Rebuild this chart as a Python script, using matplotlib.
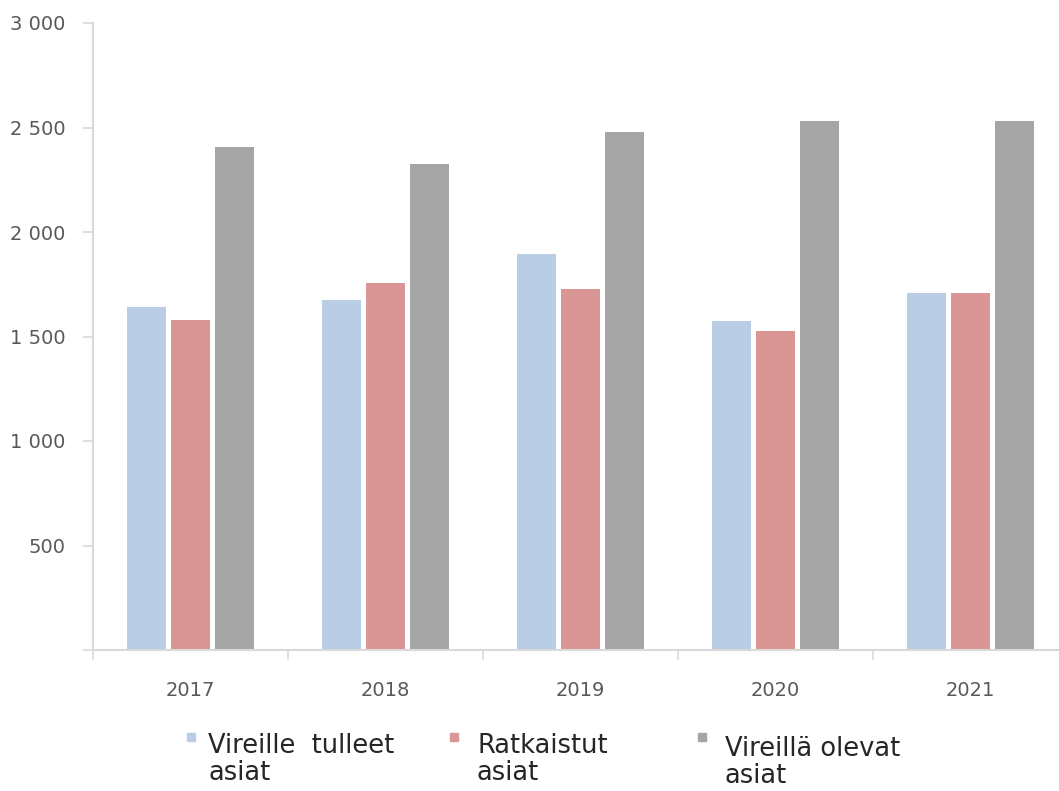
"""Vireille tulleet, ratkaistut ja vireillä olevat asiat 2017-2021."""

import matplotlib
matplotlib.use("Agg")
import matplotlib.pyplot as plt
import numpy as np
from matplotlib.patches import Rectangle
from matplotlib.ticker import FuncFormatter

years = ["2017", "2018", "2019", "2020", "2021"]
vireille_tulleet = [1640, 1675, 1895, 1575, 1710]
ratkaistut = [1580, 1755, 1725, 1525, 1710]
vireilla_olevat = [2405, 2325, 2480, 2530, 2530]

series_labels = ["Vireille  tulleet\nasiat", "Ratkaistut\nasiat", "Vireillä olevat\nasiat"]
series_colors = ["#b9cde5", "#d99694", "#a5a5a5"]
y_ticks = [0, 500, 1000, 1500, 2000, 2500, 3000]

W, H = 1059, 791
AXIS_GRAY = "#d9d9d9"
TEXT_GRAY = "#595959"


def fx(px):
    return px / W


def fy(py):
    return 1 - py / H


def thousands(v, _pos):
    if v == 0:
        return ""
    return f"{int(v):,}".replace(",", " ")


fig = plt.figure(figsize=(W / 100, H / 100), dpi=100)
ax = fig.add_axes([fx(93), fy(650), 975 / W, (650 - 23) / H])

x = np.arange(len(years))
offset = 0.225
width = 0.2
all_series = [vireille_tulleet, ratkaistut, vireilla_olevat]
for i, (vals, color) in enumerate(zip(all_series, series_colors)):
    ax.bar(x + (i - 1) * offset, vals, width=width, color=color, zorder=2)

ax.set_xlim(-0.5, len(years) - 0.5)
ax.set_ylim(0, 3000)

# spines
for side in ["top", "right"]:
    ax.spines[side].set_visible(False)
for side in ["left", "bottom"]:
    ax.spines[side].set_color(AXIS_GRAY)
    ax.spines[side].set_linewidth(1.5)

# y axis
ax.set_yticks(y_ticks)
ax.yaxis.set_major_formatter(FuncFormatter(thousands))
ax.tick_params(axis="y", length=7, width=1.2, color=AXIS_GRAY, pad=13,
               labelsize=14, labelcolor=TEXT_GRAY)

# x axis: labels at centres, tick marks at group boundaries
ax.set_xticks(x)
ax.set_xticklabels(years)
ax.set_xticks(np.arange(-0.5, len(years)), minor=True)
ax.tick_params(axis="x", which="major", length=0, pad=22,
               labelsize=14, labelcolor=TEXT_GRAY)
ax.tick_params(axis="x", which="minor", length=7, width=1.2, color=AXIS_GRAY)

# legend drawn by hand, squares sit at the first text line
legend_pos = [(187, 208, 733), (450, 477, 733), (698, 725, 736)]
for (mx, tx, ty), label, color in zip(legend_pos, series_labels, series_colors):
    fig.add_artist(Rectangle((fx(mx), fy(741)), 8 / W, 8 / H,
                             transform=fig.transFigure, color=color))
    fig.text(fx(tx), fy(ty), label, fontsize=18.5, color="#262626",
             va="top", ha="left", linespacing=1.06)

fig.savefig("out.png", dpi=100)
